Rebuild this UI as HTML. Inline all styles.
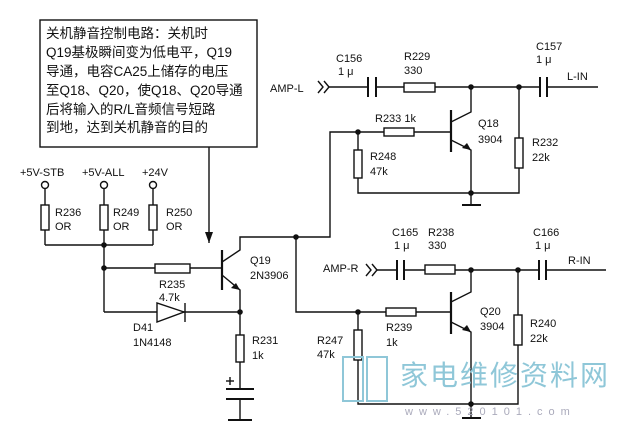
<!DOCTYPE html>
<html><head><meta charset="utf-8"><style>
html,body{margin:0;padding:0;background:#fff;}
svg{display:block;}
text{font-family:"Liberation Sans","Noto Sans CJK SC",sans-serif;font-size:11px;fill:#111;}
.cn{font-family:"Liberation Sans","Noto Sans CJK SC",sans-serif;font-size:13.5px;}
</style></head><body>
<svg width="618" height="429" viewBox="0 0 618 429" xmlns="http://www.w3.org/2000/svg">
<g stroke="#111" stroke-width="1.4" fill="none">
<rect x="40" y="20" width="217" height="127"/>
<line x1="209" y1="147" x2="209" y2="243"/>
<circle cx="45" cy="185" r="3.5"/><circle cx="104" cy="185" r="3.5"/><circle cx="153" cy="185" r="3.5"/>
<line x1="45" y1="189" x2="45" y2="245"/><line x1="104" y1="189" x2="104" y2="312"/><line x1="153" y1="189" x2="153" y2="245"/>
<line x1="45" y1="245" x2="153" y2="245"/>
<rect x="41" y="205" width="8" height="25" fill="#fff"/><rect x="100" y="205" width="8" height="25" fill="#fff"/><rect x="149" y="205" width="8" height="25" fill="#fff"/>
<line x1="104" y1="268" x2="222" y2="268"/>
<rect x="155" y="264" width="35" height="9" fill="#fff"/>
<line x1="222" y1="250" x2="222" y2="290" stroke-width="2.2"/>
<polyline points="222,262 240,250 240,237 330,237 330,132 451,132"/>
<polyline points="222,275 240,290 240,420"/>
<polyline points="104,312 240,312"/>
<polygon points="157,303 157,322 184,312" fill="#fff"/>
<line x1="185" y1="303" x2="185" y2="322"/>
<rect x="236" y="335" width="8" height="27" fill="#fff"/>
<line x1="226" y1="389" x2="254" y2="389" stroke-width="2"/>
<line x1="226" y1="399" x2="254" y2="399" stroke-width="2"/>
<rect x="236" y="390" width="8" height="8" fill="#fff" stroke="none"/>
<line x1="228" y1="420" x2="252" y2="420" stroke-width="2"/>
<line x1="226" y1="381" x2="234" y2="381"/><line x1="230" y1="377" x2="230" y2="385"/>
<polyline points="318,81 323,87 318,93"/><polyline points="324,81 329,87 324,93"/>
<line x1="329" y1="87" x2="368" y2="87"/><line x1="376" y1="87" x2="540" y2="87"/><line x1="547" y1="87" x2="598" y2="87"/>
<line x1="368" y1="77" x2="368" y2="97" stroke-width="2"/><line x1="376" y1="77" x2="376" y2="97" stroke-width="2"/>
<line x1="540" y1="77" x2="540" y2="97" stroke-width="2"/><line x1="547" y1="77" x2="547" y2="97" stroke-width="2"/>
<rect x="404" y="83" width="31" height="9" fill="#fff"/>
<rect x="384" y="128" width="30" height="8" fill="#fff"/>
<line x1="451" y1="110" x2="451" y2="152" stroke-width="2.2"/>
<polyline points="451,122 471,112 471,87"/>
<polyline points="451,140 471,150 471,205"/>
<line x1="462" y1="205" x2="481" y2="205" stroke-width="2"/>
<polyline points="358,132 358,193 519,193 519,87"/>
<rect x="354" y="150" width="8" height="28" fill="#fff"/>
<rect x="515" y="138" width="8" height="30" fill="#fff"/>
<polyline points="296,237 296,312 451,312"/>
<polyline points="366,264 371,270 366,276"/><polyline points="372,264 377,270 372,276"/>
<line x1="377" y1="270" x2="397" y2="270"/><line x1="404" y1="270" x2="539" y2="270"/><line x1="546" y1="270" x2="606" y2="270"/>
<line x1="397" y1="260" x2="397" y2="280" stroke-width="2"/><line x1="404" y1="260" x2="404" y2="280" stroke-width="2"/>
<line x1="539" y1="260" x2="539" y2="280" stroke-width="2"/><line x1="546" y1="260" x2="546" y2="280" stroke-width="2"/>
<rect x="425" y="265" width="30" height="9" fill="#fff"/>
<rect x="386" y="308" width="30" height="8" fill="#fff"/>
<line x1="451" y1="292" x2="451" y2="334" stroke-width="2.2"/>
<polyline points="451,302 471,292 471,270"/>
<polyline points="451,322 471,332 471,418"/>
<line x1="462" y1="418" x2="481" y2="418" stroke-width="2"/>
<polyline points="358,312 358,404 518,404 518,270"/>
<rect x="354" y="330" width="8" height="30" fill="#fff"/>
<rect x="514" y="315" width="8" height="30" fill="#fff"/>
</g>
<g fill="#111">
<polygon points="205,232 213,232 209,243"/>
<polygon points="240,290 231,288 236,283"/>
<polygon points="471,150 462,148 467,143"/>
<polygon points="471,332 462,330 467,325"/>
<circle cx="104" cy="245" r="2.8"/><circle cx="104" cy="268" r="2.8"/><circle cx="240" cy="312" r="2.8"/>
<circle cx="296" cy="237" r="2.8"/><circle cx="358" cy="132" r="2.8"/><circle cx="471" cy="87" r="2.8"/><circle cx="519" cy="87" r="2.8"/><circle cx="471" cy="193" r="2.8"/>
<circle cx="358" cy="312" r="2.8"/><circle cx="471" cy="270" r="2.8"/><circle cx="518" cy="270" r="2.8"/><circle cx="471" cy="404" r="2.8"/>
</g>
<text x="46" y="38" class="cn">关机静音控制电路：关机时</text>
<text x="46" y="57" class="cn">Q19基极瞬间变为低电平，Q19</text>
<text x="46" y="76" class="cn">导通，电容CA25上储存的电压</text>
<text x="46" y="95" class="cn">至Q18、Q20，使Q18、Q20导通</text>
<text x="46" y="114" class="cn">后将输入的R/L音频信号短路</text>
<text x="46" y="132" class="cn">到地，达到关机静音的目的</text>
<text x="20" y="176">+5V-STB</text><text x="82" y="176">+5V-ALL</text><text x="142" y="176">+24V</text>
<text x="55" y="216">R236</text><text x="55" y="230">OR</text>
<text x="113" y="216">R249</text><text x="113" y="230">OR</text>
<text x="166" y="216">R250</text><text x="166" y="230">OR</text>
<text x="159" y="288">R235</text><text x="159" y="301">4.7k</text>
<text x="250" y="264">Q19</text><text x="250" y="279">2N3906</text>
<text x="133" y="331">D41</text><text x="133" y="346">1N4148</text>
<text x="252" y="344">R231</text><text x="252" y="359">1k</text>
<text x="270" y="92">AMP-L</text>
<text x="336" y="62">C156</text><text x="338" y="75">1 μ</text>
<text x="404" y="60">R229</text><text x="404" y="74">330</text>
<text x="536" y="50">C157</text><text x="536" y="63">1 μ</text>
<text x="567" y="80">L-IN</text>
<text x="375" y="122">R233  1k</text>
<text x="478" y="127">Q18</text><text x="478" y="143">3904</text>
<text x="370" y="160">R248</text><text x="370" y="175">47k</text>
<text x="532" y="146">R232</text><text x="532" y="161">22k</text>
<text x="392" y="236">C165</text><text x="394" y="249">1 μ</text>
<text x="428" y="236">R238</text><text x="428" y="249">330</text>
<text x="533" y="236">C166</text><text x="535" y="249">1 μ</text>
<text x="323" y="272">AMP-R</text><text x="568" y="264">R-IN</text>
<text x="480" y="315">Q20</text><text x="480" y="330">3904</text>
<text x="386" y="331">R239</text><text x="386" y="346">1k</text>
<text x="317" y="344">R247</text><text x="317" y="358">47k</text>
<text x="530" y="327">R240</text><text x="530" y="342">22k</text>
<g stroke="#8fc7d8" stroke-width="2" fill="none">
<rect x="343" y="357" width="20" height="44"/><rect x="367" y="357" width="20" height="44"/>
</g>
<text x="400" y="385" style="font-size:28px;fill:#8fc7d8;letter-spacing:2px">家电维修资料网</text>
<text x="405" y="415" style="font-size:11px;fill:#aab;letter-spacing:6px">www.520101.com</text>
</svg>
</body></html>
